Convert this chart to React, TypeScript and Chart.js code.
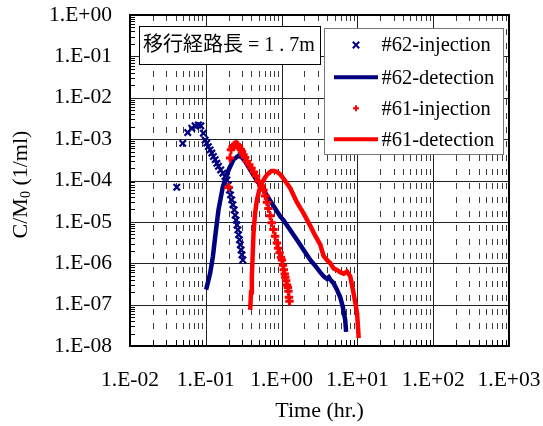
import React, { useEffect, useRef } from "react";
import { Chart, registerables } from "chart.js";

Chart.register(...registerables);

// ---------------- data ----------------
const xTickValues = [0.01, 0.1, 1, 10, 100, 1000];
const yTickValues = [1e-8, 1e-7, 1e-6, 1e-5, 1e-4, 1e-3, 1e-2, 1e-1, 1];

const seriesLabels = ["#62-injection", "#62-detection", "#61-injection", "#61-detection"];
const annotationText = "移行経路長 = 1 . 7m";
const xTitle = "Time (hr.)";

// #62 injection (× markers)
const t62inj = [0.0414, 0.0497, 0.0578, 0.0653, 0.0722, 0.0798, 0.0859, 0.093, 0.098, 0.103, 0.108, 0.114, 0.12, 0.126, 0.133, 0.14, 0.147, 0.157, 0.168, 0.179, 0.19, 0.198, 0.205, 0.212, 0.22, 0.228, 0.237, 0.244, 0.251, 0.258, 0.265, 0.271, 0.278, 0.285, 0.292, 0.3, 0.308];
const c62inj = [6.9e-5, 7.9e-4, 1.44e-3, 1.83e-3, 2.1e-3, 2.2e-3, 2.1e-3, 1.39e-3, 9.5e-4, 8.0e-4, 6.6e-4, 5.5e-4, 4.6e-4, 3.8e-4, 3.2e-4, 2.6e-4, 2.2e-4, 1.8e-4, 1.5e-4, 1.25e-4, 1.03e-4, 7.8e-5, 5.9e-5, 4.5e-5, 3.4e-5, 2.6e-5, 1.95e-5, 1.45e-5, 1.1e-5, 8.4e-6, 6.4e-6, 4.9e-6, 3.7e-6, 2.8e-6, 2.1e-6, 1.6e-6, 1.2e-6];

// #62 detection (navy line)
const t62det = [0.101, 0.114, 0.124, 0.133, 0.147, 0.168, 0.2, 0.232, 0.27, 0.3, 0.33, 0.385, 0.47, 0.577, 0.71, 0.96, 1.06, 1.59, 2.39, 2.8, 3.24, 3.6, 3.96, 4.2, 4.4, 4.85, 5.37, 5.94, 6.4, 6.9, 7.1];
const c62det = [2.3e-7, 5.7e-7, 1.45e-6, 4.4e-6, 1.95e-5, 7.1e-5, 1.8e-4, 3.2e-4, 4.0e-4, 3.6e-4, 2.9e-4, 1.8e-4, 1.0e-4, 5.9e-5, 3.2e-5, 1.35e-5, 1.1e-5, 3.7e-6, 1.2e-6, 8.5e-7, 6.0e-7, 4.8e-7, 4.2e-7, 4.6e-7, 4.0e-7, 3.3e-7, 2.3e-7, 1.5e-7, 9.0e-8, 4.3e-8, 2.2e-8];

// #61 injection (+ markers)
const t61inj = [0.199, 0.209, 0.215, 0.225, 0.235, 0.245, 0.255, 0.265, 0.275, 0.29, 0.3, 0.314, 0.33, 0.35, 0.375, 0.4, 0.43, 0.46, 0.5, 0.54, 0.577, 0.61, 0.64, 0.67, 0.706, 0.74, 0.78, 0.82, 0.867, 0.9, 0.94, 0.98, 1.01, 1.04, 1.07, 1.1, 1.12, 1.15, 1.18, 1.21, 1.23, 1.25, 1.27];
const c61inj = [6.9e-5, 3.5e-4, 5.5e-4, 6.5e-4, 7.0e-4, 7.3e-4, 7.4e-4, 7.0e-4, 6.4e-4, 5.6e-4, 5.0e-4, 4.2e-4, 3.6e-4, 2.9e-4, 2.4e-4, 2.0e-4, 1.6e-4, 1.3e-4, 9.5e-5, 7.5e-5, 5.9e-5, 4.2e-5, 3.0e-5, 2.1e-5, 1.4e-5, 9.5e-6, 6.5e-6, 4.5e-6, 3.1e-6, 2.3e-6, 1.8e-6, 1.4e-6, 1.2e-6, 9.0e-7, 7.0e-7, 5.5e-7, 4.6e-7, 3.8e-7, 3.0e-7, 2.6e-7, 2.1e-7, 1.5e-7, 1.2e-7];

// #61 detection (red line)
const t61det = [0.385, 0.395, 0.405, 0.415, 0.426, 0.445, 0.472, 0.51, 0.55, 0.6, 0.64, 0.7, 0.745, 0.8, 0.867, 0.94, 1.01, 1.17, 1.3, 1.59, 1.95, 2.39, 2.8, 3.24, 3.58, 3.96, 4.4, 4.85, 5.37, 6.0, 6.6, 7.3, 8.05, 8.9, 9.9, 10.4];
const c61det = [7.5e-8, 2.0e-7, 4.8e-7, 1.5e-6, 5.3e-6, 1.5e-5, 3.4e-5, 6.0e-5, 8.6e-5, 1.15e-4, 1.37e-4, 1.6e-4, 1.7e-4, 1.7e-4, 1.62e-4, 1.45e-4, 1.25e-4, 8.6e-5, 6.5e-5, 3.0e-5, 1.6e-5, 8.0e-6, 4.5e-6, 2.8e-6, 1.5e-6, 1.2e-6, 1.0e-6, 7.5e-7, 6.9e-7, 6.0e-7, 5.6e-7, 6.3e-7, 4.8e-7, 1.9e-7, 6.3e-8, 1.55e-8];

// ---------------- styling ----------------
const NAVY = "#000080";
const RED = "#FF0000";
const SERIF = "'Liberation Serif', 'Times New Roman', 'Noto Sans CJK JP', serif";
const W = 543;
const H = 426;

const pts = (t: number[], c: number[]) => t.map((v, i) => ({ x: v, y: c[i] }));

const fmtExp = (v: number) => {
  const e = Math.round(Math.log10(v));
  const s = e >= 0 ? "+" : "-";
  const a = Math.abs(e);
  return "1.E" + s + (a < 10 ? "0" + a : String(a));
};

function drawMarker(ctx: CanvasRenderingContext2D, style: string, cx: number, cy: number, r: number, color: string, lw: number) {
  ctx.save();
  ctx.strokeStyle = color;
  ctx.lineWidth = lw;
  ctx.beginPath();
  if (style === "crossRot") {
    ctx.moveTo(cx - r, cy - r);
    ctx.lineTo(cx + r, cy + r);
    ctx.moveTo(cx - r, cy + r);
    ctx.lineTo(cx + r, cy - r);
  } else {
    ctx.moveTo(cx - r, cy);
    ctx.lineTo(cx + r, cy);
    ctx.moveTo(cx, cy - r);
    ctx.lineTo(cx, cy + r);
  }
  ctx.stroke();
  ctx.restore();
}

const zeroPad = (s: any) => {
  s.paddingTop = 0;
  s.paddingBottom = 0;
  s.paddingLeft = 0;
  s.paddingRight = 0;
};

const gridPlugin = {
  id: "logGrid",
  beforeDatasetsDraw(chart: any) {
    const { ctx, chartArea: a, scales } = chart;
    const x = scales.x;
    const y = scales.y;
    ctx.save();
    ctx.lineWidth = 1;
    // minor vertical dashed lines
    ctx.strokeStyle = "#3a3a3a";
    ctx.setLineDash([6, 8]);
    for (let d = -2; d < 3; d++) {
      for (let k = 2; k <= 9; k++) {
        const px = Math.round(x.getPixelForValue(k * Math.pow(10, d))) + 0.5;
        ctx.beginPath();
        ctx.moveTo(px, a.top);
        ctx.lineTo(px, a.bottom - 9);
        ctx.stroke();
      }
    }
    ctx.setLineDash([]);
    // minor ticks inside bottom axis
    ctx.strokeStyle = "#000";
    for (let d = -2; d < 3; d++) {
      for (let k = 2; k <= 9; k++) {
        const px = Math.round(x.getPixelForValue(k * Math.pow(10, d))) + 0.5;
        ctx.beginPath();
        ctx.moveTo(px, a.bottom);
        ctx.lineTo(px, a.bottom - 6);
        ctx.stroke();
      }
    }
    // minor ticks inside left axis
    for (let d = -8; d < 0; d++) {
      for (let k = 2; k <= 9; k++) {
        const py = Math.round(y.getPixelForValue(k * Math.pow(10, d))) + 0.5;
        ctx.beginPath();
        ctx.moveTo(a.left, py);
        ctx.lineTo(a.left + 5, py);
        ctx.stroke();
      }
    }
    // major grid
    ctx.strokeStyle = "#222";
    xTickValues.forEach((v) => {
      const px = Math.round(x.getPixelForValue(v)) + 0.5;
      ctx.beginPath();
      ctx.moveTo(px, a.top);
      ctx.lineTo(px, a.bottom);
      ctx.stroke();
    });
    yTickValues.forEach((v) => {
      const py = Math.round(y.getPixelForValue(v)) + 0.5;
      ctx.beginPath();
      ctx.moveTo(a.left, py);
      ctx.lineTo(a.right, py);
      ctx.stroke();
    });
    ctx.restore();
  },
  afterDatasetsDraw(chart: any) {
    const { ctx, chartArea: a } = chart;
    ctx.save();
    // frame
    ctx.strokeStyle = "#000";
    ctx.lineWidth = 2;
    ctx.strokeRect(a.left, a.top, a.right - a.left, a.bottom - a.top);

    // annotation box
    ctx.lineWidth = 1;
    ctx.fillStyle = "#fff";
    ctx.fillRect(139.5, 26.5, 181, 38);
    ctx.strokeStyle = "#000";
    ctx.strokeRect(139.5, 26.5, 181, 38);
    ctx.fillStyle = "#000";
    ctx.font = "20px " + SERIF;
    ctx.textBaseline = "middle";
    ctx.textAlign = "left";
    ctx.fillText(annotationText, 143, 46);

    // legend box
    const lx = 324.5, ly = 28.5, lw = 179, lh = 126;
    ctx.fillStyle = "#fff";
    ctx.fillRect(lx, ly, lw, lh);
    ctx.strokeStyle = "#777";
    ctx.strokeRect(lx, ly, lw, lh);
    const rows = [45, 77.3, 108.3, 139.3];
    chart.data.datasets.forEach((ds: any, i: number) => {
      const ry = rows[i];
      if (ds.showLine) {
        ctx.strokeStyle = ds.borderColor;
        ctx.lineWidth = 4;
        ctx.lineCap = "butt";
        ctx.beginPath();
        ctx.moveTo(334, ry);
        ctx.lineTo(378, ry);
        ctx.stroke();
      } else {
        drawMarker(ctx, ds.pointStyle, 356, ry, ds.pointStyle === "crossRot" ? 3.2 : 3, ds.borderColor, 2);
      }
      ctx.fillStyle = "#000";
      ctx.font = "20.5px " + SERIF;
      ctx.textBaseline = "middle";
      ctx.textAlign = "left";
      ctx.fillText(ds.label, 381.5, ry + 1);
    });

    // x title
    ctx.fillStyle = "#000";
    ctx.font = "22px " + SERIF;
    ctx.textAlign = "center";
    ctx.textBaseline = "middle";
    ctx.fillText(xTitle, (a.left + a.right) / 2, a.bottom + 65);

    // y title with subscript
    const cy = (a.top + a.bottom) / 2 + 4;
    ctx.translate(21, cy);
    ctx.rotate(-Math.PI / 2);
    const big = "22px " + SERIF;
    const small = "14px " + SERIF;
    ctx.font = big;
    const w1 = ctx.measureText("C/M").width;
    const w3 = ctx.measureText(" (1/ml)").width;
    ctx.font = small;
    const w2 = ctx.measureText("0").width;
    let sx = -(w1 + w2 + w3) / 2;
    ctx.textAlign = "left";
    ctx.font = big;
    ctx.fillText("C/M", sx, 0);
    sx += w1;
    ctx.font = small;
    ctx.fillText("0", sx, 5);
    sx += w2;
    ctx.font = big;
    ctx.fillText(" (1/ml)", sx, 0);
    ctx.restore();
  },
};

export default function App() {
  const ref = useRef<HTMLCanvasElement | null>(null);

  useEffect(() => {
    document.body.style.margin = "0";
    if (!ref.current) return;
    const chart = new Chart(ref.current, {
      type: "scatter",
      data: {
        datasets: [
          {
            label: seriesLabels[0],
            data: pts(t62inj, c62inj),
            showLine: false,
            pointStyle: "crossRot",
            pointRadius: 4.5,
            pointBorderWidth: 2.2,
            borderColor: NAVY,
            backgroundColor: NAVY,
            order: 3,
          },
          {
            label: seriesLabels[1],
            data: pts(t62det, c62det),
            showLine: true,
            pointRadius: 0,
            borderWidth: 4.5,
            borderColor: NAVY,
            backgroundColor: NAVY,
            tension: 0,
            order: 2,
          },
          {
            label: seriesLabels[2],
            data: pts(t61inj, c61inj),
            showLine: false,
            pointStyle: "cross",
            pointRadius: 4.2,
            pointBorderWidth: 3,
            borderColor: RED,
            backgroundColor: RED,
            order: 1,
          },
          {
            label: seriesLabels[3],
            data: pts(t61det, c61det),
            showLine: true,
            pointRadius: 0,
            borderWidth: 4.5,
            borderColor: RED,
            backgroundColor: RED,
            tension: 0,
            order: 0,
          },
        ],
      },
      options: {
        animation: false,
        responsive: false,
        devicePixelRatio: 1,
        layout: { padding: { top: 15, right: 34, left: 0, bottom: 0 } },
        plugins: {
          legend: { display: false },
          tooltip: { enabled: false },
        },
        scales: {
          x: {
            type: "logarithmic",
            min: 0.01,
            max: 1000,
            grid: { display: false, drawTicks: false },
            border: { display: false },
            afterBuildTicks: (s: any) => {
              s.ticks = xTickValues.map((v) => ({ value: v }));
            },
            afterFit: (s: any) => {
              s.height = 80;
              zeroPad(s);
            },
            ticks: {
              callback: (v: any) => fmtExp(Number(v)),
              font: { family: SERIF, size: 21.5 },
              color: "#000",
              padding: 21,
              maxRotation: 0,
              minRotation: 0,
              autoSkip: false,
            },
          },
          y: {
            type: "logarithmic",
            min: 1e-8,
            max: 1,
            grid: { display: false, drawTicks: false },
            border: { display: false },
            afterBuildTicks: (s: any) => {
              s.ticks = yTickValues.map((v) => ({ value: v }));
            },
            afterFit: (s: any) => {
              s.width = 130;
              zeroPad(s);
            },
            ticks: {
              callback: (v: any) => fmtExp(Number(v)),
              font: { family: SERIF, size: 21.5 },
              color: "#000",
              padding: 18,
              autoSkip: false,
            },
          },
        },
      },
      plugins: [gridPlugin],
    } as any);
    return () => chart.destroy();
  }, []);

  return (
    <div style={{ width: W, height: H }}>
      <canvas ref={ref} width={W} height={H} style={{ display: "block" }} />
    </div>
  );
}
